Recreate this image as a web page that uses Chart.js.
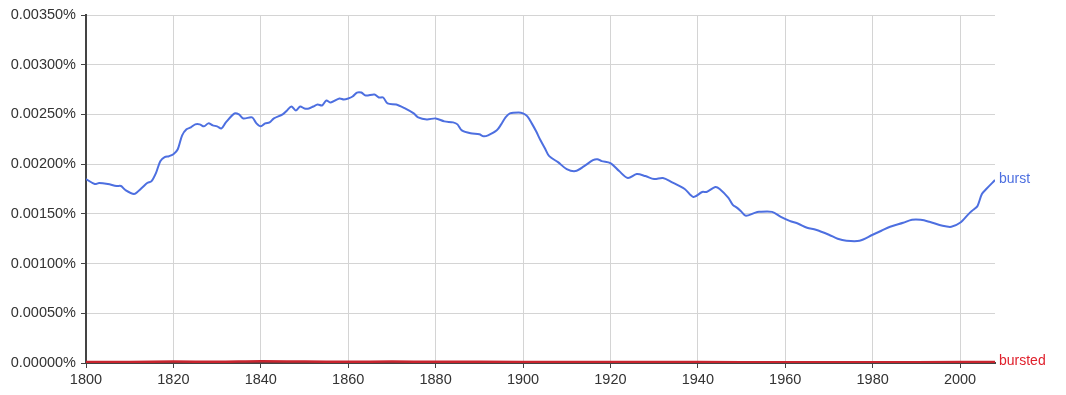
<!DOCTYPE html>
<html lang="en">
<head>
    <meta charset="UTF-8">
    <title>burst, bursted</title>
    <script src="https://cdn.jsdelivr.net/npm/chart.js"></script>
    <style>
        body {
            margin: 0;
            background: #fff;
        }
        #chart {
            display: block;
        }
    </style>
</head>
<body>
    <canvas id="chart" width="1066" height="395"></canvas>
    <script>
        // values are in percent
        const burstYears = [1800, 1802, 1803, 1805, 1807, 1808, 1809, 1811, 1812, 1813, 1814, 1815, 1816, 1817, 1818, 1819,
            1820, 1821, 1822, 1823, 1824, 1825, 1826, 1827, 1828, 1829, 1830, 1831, 1832, 1834, 1835, 1836, 1838, 1839,
            1840, 1841, 1842, 1843, 1845, 1846, 1847, 1848, 1849, 1850, 1851, 1852, 1853, 1854, 1855, 1856, 1858, 1859,
            1860, 1861, 1862, 1863, 1864, 1866, 1867, 1868, 1869, 1871, 1873, 1875, 1876, 1878,
            1880, 1882, 1884, 1885, 1886, 1888, 1890, 1891, 1892, 1894, 1895, 1896, 1897, 1899,
            1900, 1901, 1902, 1903, 1904, 1905, 1906, 1908, 1910, 1912, 1914, 1916, 1917, 1918,
            1920, 1922, 1924, 1926, 1928, 1930, 1932, 1934, 1937, 1939,
            1941, 1942, 1944, 1945, 1947, 1948, 1949, 1950, 1951, 1953, 1954, 1957, 1959,
            1961, 1963, 1965, 1967, 1970, 1972, 1974, 1977,
            1980, 1982, 1984, 1987, 1989, 1991, 1993, 1996, 1998,
            2000, 2002, 2003, 2004, 2005, 2006, 2008];
        const burstValues = [0.00185, 0.00180, 0.00181, 0.00180, 0.00178, 0.00178, 0.00174, 0.00170, 0.00173, 0.00177, 0.00181, 0.00183, 0.00191, 0.00203, 0.00207, 0.00208,
            0.00210, 0.00215, 0.00229, 0.00235, 0.00237, 0.00240, 0.00240, 0.00238, 0.00241, 0.00239, 0.00238, 0.00236, 0.00242, 0.00251, 0.00250, 0.00246, 0.00247, 0.00241,
            0.00238, 0.00241, 0.00242, 0.00246, 0.00250, 0.00254, 0.00258, 0.00254, 0.00258, 0.00256, 0.00256, 0.00258, 0.00260, 0.00259, 0.00264, 0.00262, 0.00266, 0.00265,
            0.00266, 0.00268, 0.00272, 0.00272, 0.00269, 0.00270, 0.00267, 0.00267, 0.00261, 0.00260, 0.00256, 0.00251, 0.00247, 0.00245,
            0.00246, 0.00243, 0.00242, 0.00240, 0.00234, 0.00231, 0.00230, 0.00228, 0.00229, 0.00234, 0.00240, 0.00247, 0.00251, 0.00252,
            0.00251, 0.00248, 0.00241, 0.00233, 0.00224, 0.00216, 0.00208, 0.00202, 0.00195, 0.00193, 0.00198, 0.00204, 0.00205, 0.00203,
            0.00201, 0.00193, 0.00186, 0.00190, 0.00188, 0.00185, 0.00186, 0.00182, 0.00175, 0.00167,
            0.00172, 0.00172, 0.00177, 0.00175, 0.00166, 0.00159, 0.00156, 0.00152, 0.00148, 0.00151, 0.00152, 0.00152, 0.00147,
            0.00143, 0.00140, 0.00136, 0.00134, 0.00129, 0.00125, 0.00123, 0.00123,
            0.00129, 0.00133, 0.00137, 0.00141, 0.00144, 0.00144, 0.00142, 0.00138, 0.00137,
            0.00141, 0.00150, 0.00154, 0.00158, 0.00170, 0.00175, 0.00184];

        const burstedYears = [1800, 1810, 1820, 1830, 1840, 1850, 1860, 1870, 1880, 1900, 1920, 1940, 1960, 1980, 2000, 2008];
        const burstedValues = [0.000010, 0.000011, 0.000015, 0.000012, 0.000018, 0.000014, 0.000013, 0.000014, 0.000012, 0.000011, 0.000010, 0.000009, 0.000008, 0.000008, 0.000009, 0.000010];

        const yTicks = [0, 0.0005, 0.001, 0.0015, 0.002, 0.0025, 0.003, 0.0035];

        function toPoints(xs, ys) {
            return xs.map((x, i) => ({ x: x, y: ys[i] }));
        }

        // draws the series name at the end of each line
        const endLabels = {
            id: 'endLabels',
            afterDatasetsDraw(chart) {
                const ctx = chart.ctx;
                ctx.save();
                ctx.font = '14px "Liberation Sans", Arial, sans-serif';
                ctx.textBaseline = 'middle';
                ctx.textAlign = 'left';
                chart.data.datasets.forEach((ds, i) => {
                    const pts = chart.getDatasetMeta(i).data;
                    const last = pts[pts.length - 1];
                    ctx.fillStyle = ds.labelColor;
                    ctx.fillText(ds.label, last.x + 4, last.y - 1);
                });
                ctx.restore();
            }
        };

        const tickFont = { family: '"Liberation Sans", Arial, sans-serif', size: 14.5 };

        new Chart(document.getElementById('chart'), {
            type: 'line',
            data: {
                datasets: [{
                    label: 'burst',
                    data: toPoints(burstYears, burstValues),
                    borderColor: '#4d6fe0',
                    labelColor: '#4d6fe0',
                    borderWidth: 2,
                    pointRadius: 0,
                    tension: 0.3
                }, {
                    label: 'bursted',
                    data: toPoints(burstedYears, burstedValues),
                    borderColor: '#c8242e',
                    labelColor: '#e0202c',
                    borderWidth: 2.5,
                    pointRadius: 0,
                    tension: 0.3
                }]
            },
            options: {
                responsive: false,
                animation: false,
                layout: {
                    padding: { top: 15, right: 71, left: 0, bottom: 0 }
                },
                plugins: {
                    legend: { display: false },
                    tooltip: { enabled: false }
                },
                scales: {
                    x: {
                        type: 'linear',
                        min: 1800,
                        max: 2008,
                        afterFit(scale) { scale.height = 32; },
                        border: { color: '#444', width: 2 },
                        grid: { color: '#d4d4d4', tickColor: '#444', tickLength: 5 },
                        ticks: {
                            stepSize: 20,
                            includeBounds: false,
                            autoSkip: false,
                            maxRotation: 0,
                            padding: 3,
                            color: '#333',
                            font: tickFont,
                            callback: v => String(v)
                        }
                    },
                    y: {
                        min: 0,
                        max: 0.0035,
                        afterFit(scale) { scale.width = 86; },
                        afterBuildTicks(scale) { scale.ticks = yTicks.map(v => ({ value: v })); },
                        border: { color: '#444', width: 2 },
                        grid: { color: '#d4d4d4', tickColor: '#444', tickLength: 5 },
                        ticks: {
                            padding: 5,
                            color: '#333',
                            font: tickFont,
                            callback: v => v.toFixed(5) + '%'
                        }
                    }
                }
            },
            plugins: [endLabels]
        });
    </script>
</body>
</html>
